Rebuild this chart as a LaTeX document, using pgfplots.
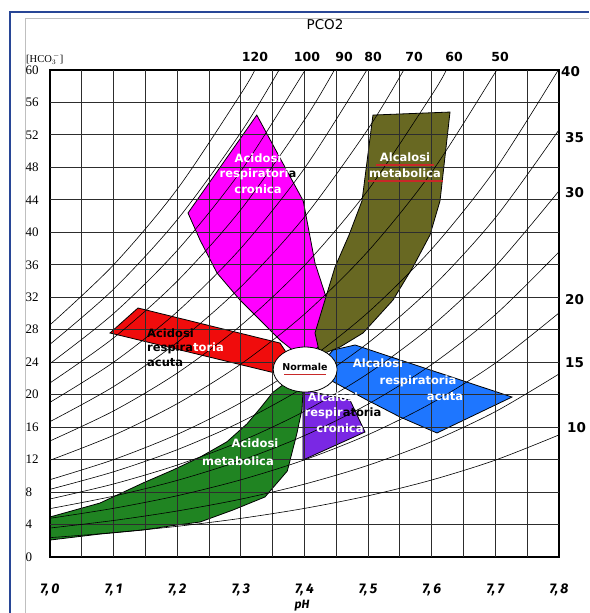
\documentclass[border=0pt]{standalone}
\usepackage{fontspec}
\setmainfont{Liberation Serif}
\newfontfamily\dejavu{DejaVu Sans}
\newfontfamily\fira{Fira Sans}
\usepackage{pgfplots}
\pgfplotsset{compat=1.18}
\definecolor{cMag}{RGB}{255,0,255}
\definecolor{cOlive}{RGB}{104,104,34}
\definecolor{cRed}{RGB}{240,12,12}
\definecolor{cBlue}{RGB}{30,118,255}
\definecolor{cViolet}{RGB}{122,40,228}
\definecolor{cGreen}{RGB}{32,132,34}
\definecolor{cFrame}{RGB}{40,70,150}
\definecolor{cUnder}{RGB}{200,40,40}
\definecolor{cGrid}{RGB}{45,45,45}
\tikzset{lab/.style={font=\dejavu\bfseries\fontsize{11.5}{12}\selectfont, text=white, inner sep=0pt},
         iso/.style={black, line width=0.6pt, smooth},
         zone/.style={draw=black, line width=0.8pt}}
\pgfplotsset{base/.style={
    at={(50pt,-557pt)}, anchor=south west,
    scale only axis, width=509pt, height=487pt,
    xmin=7, xmax=7.8, ymin=0, ymax=60}}
\begin{document}
\begin{tikzpicture}
% cornice
\draw[cFrame, line width=1.5pt] (10pt,-613pt) -- (10pt,-12pt) -- (589pt,-12pt);
\draw[black!25, line width=1pt] (25pt,-613pt) -- (25pt,-18pt) -- (589pt,-18pt);

% assi e zone
\begin{axis}[base,
    axis on top,
    xtick={7,7.1,7.2,7.3,7.4,7.5,7.6,7.7,7.8},
    xticklabels={{7,\,0},{7,\,1},{7,\,2},{7,\,3},{7,\,4},{7,\,5},{7,\,6},{7,\,7},{7,\,8}},
    minor xtick={7.05,7.15,7.25,7.35,7.45,7.55,7.65,7.75},
    ytick={0,4,...,60},
    grid=both,
    major grid style={draw=cGrid, line width=1.1pt},
    minor grid style={draw=cGrid, line width=1.1pt},
    tick style={draw=cGrid, line width=1.1pt},
    tick align=inside,
    axis line style={black, line width=1.3pt},
    xticklabel style={font=\fira\bfseries\itshape\fontsize{14}{14}\selectfont, yshift=-23pt},
    yticklabel style={font=\fontsize{13}{13}\selectfont, anchor=west, xshift=-28pt},
    /pgf/number format/assume math mode=true,
]
% acidosi respiratoria cronica
\addplot[zone, fill=cMag] coordinates {
    (7.325,54.45) (7.398,43.88) (7.4165,36.22) (7.4354,31.66) (7.4401,29.20)
    (7.4244,26.12) (7.4008,24.27) (7.3615,26.73) (7.3348,28.83) (7.2986,31.66)
    (7.2625,34.99) (7.2358,39.05) (7.2169,42.38)} -- cycle;
% alcalosi metabolica
\addplot[zone, fill=cOlive] coordinates {
    (7.5076,54.45) (7.6287,54.82) (7.6130,43.88) (7.5972,39.67) (7.5705,35.73)
    (7.5391,31.66) (7.4920,27.60) (7.4558,25.87) (7.4244,24.89) (7.4165,27.60)
    (7.4322,31.66) (7.4480,35.73) (7.4700,39.67) (7.4904,43.88)} -- cycle;
% acidosi respiratoria acuta
\addplot[zone, fill=cRed] coordinates {
    (7.0943,27.60) (7.1383,30.68) (7.3615,26.36) (7.3772,24.50) (7.3537,22.67)} -- cycle;
% alcalosi respiratoria acuta
\addplot[zone, fill=cBlue] coordinates {
    (7.4448,25.50) (7.4794,26.12) (7.7261,19.71) (7.6082,15.28) (7.5501,17.25)
    (7.4982,19.34) (7.4401,21.81) (7.4244,23.65)} -- cycle;
% alcalosi respiratoria cronica
\addplot[zone, fill=cViolet] coordinates {
    (7.3976,20.60) (7.4715,19.34) (7.4951,15.40) (7.3976,11.95)} -- cycle;
% acidosi metabolica
\addplot[zone, fill=cGreen] coordinates {
    (7.000,4.93) (7.0786,6.65) (7.1462,9.12) (7.1933,10.72) (7.2358,12.30)
    (7.2782,14.20) (7.3096,16.40) (7.3301,18.30) (7.3505,20.30) (7.3693,21.40)
    (7.3976,20.33) (7.3960,18.20) (7.3880,15.20) (7.3730,10.60) (7.3380,7.40)
    (7.2876,5.79) (7.2358,4.31) (7.1996,3.94) (7.1462,3.33) (7.0786,2.83)
    (7.000,2.09)} -- cycle;
\end{axis}

% griglia (passo 0,05 pH e 4 mmol/L)
\foreach \k in {1,...,15}{
  \draw[cGrid, line width=1.1pt] (50pt+\k*31.8125pt,-70pt) -- (50pt+\k*31.8125pt,-557pt);}
\foreach \k in {1,...,14}{
  \draw[cGrid, line width=1.1pt] (50pt,-557pt+\k*32.4667pt) -- (559pt,-557pt+\k*32.4667pt);}

% isoplete PCO2 (mmHg) e normale
\begin{axis}[base, hide axis]
\addplot[iso] coordinates {(7.0,2.38) (7.1,3.00) (7.2,3.78) (7.3,4.76) (7.4,5.99) (7.5,7.54) (7.6,9.49) (7.7,11.94) (7.8,15.04)};
\addplot[iso] coordinates {(7.0,3.57) (7.1,4.50) (7.2,5.67) (7.3,7.13) (7.4,8.98) (7.5,11.30) (7.6,14.23) (7.7,17.91) (7.8,22.55)};
\addplot[iso] coordinates {(7.0,4.77) (7.1,6.00) (7.2,7.55) (7.3,9.51) (7.4,11.97) (7.5,15.07) (7.6,18.97) (7.7,23.89) (7.8,30.07)};
\addplot[iso] coordinates {(7.0,5.96) (7.1,7.50) (7.2,9.44) (7.3,11.89) (7.4,14.96) (7.5,18.84) (7.6,23.72) (7.7,29.86) (7.8,37.59)};
\addplot[iso] coordinates {(7.0,7.15) (7.1,9.00) (7.2,11.33) (7.3,14.26) (7.4,17.96) (7.5,22.61) (7.6,28.46) (7.7,35.83) (7.8,45.11)};
\addplot[iso] coordinates {(7.0,8.34) (7.1,10.50) (7.2,13.22) (7.3,16.64) (7.4,20.95) (7.5,26.38) (7.6,33.20) (7.7,41.80) (7.8,52.63)};
\addplot[iso] coordinates {(7.0,9.53) (7.1,12.00) (7.2,15.11) (7.3,19.02) (7.4,23.94) (7.5,30.14) (7.6,37.95) (7.7,47.77) (7.8,60.14)};
\addplot[iso] coordinates {(7.0,11.92) (7.1,15.00) (7.2,18.89) (7.3,23.77) (7.4,29.93) (7.5,37.68) (7.6,47.43) (7.7,59.72) (7.702,60)};
\addplot[iso] coordinates {(7.0,14.30) (7.1,18.00) (7.2,22.66) (7.3,28.53) (7.4,35.92) (7.5,45.22) (7.6,56.92) (7.623,60)};
\addplot[iso] coordinates {(7.0,16.68) (7.1,21.00) (7.2,26.44) (7.3,33.29) (7.4,41.90) (7.5,52.75) (7.556,60)};
\addplot[iso] coordinates {(7.0,19.06) (7.1,24.00) (7.2,30.22) (7.3,38.04) (7.4,47.89) (7.498,60)};
\addplot[iso] coordinates {(7.0,21.45) (7.1,27.00) (7.2,33.99) (7.3,42.80) (7.4,53.87) (7.447,60)};
\addplot[iso] coordinates {(7.0,23.83) (7.1,30.00) (7.2,37.77) (7.3,47.55) (7.4,59.86) (7.401,60)};
\addplot[iso] coordinates {(7.0,26.21) (7.1,33.00) (7.2,41.55) (7.3,52.31) (7.360,60)};
\addplot[iso] coordinates {(7.0,28.60) (7.1,36.00) (7.2,45.32) (7.3,57.06) (7.322,60)};
% normale
\addplot[only marks, mark=*, mark size=22.5pt,
    mark options={fill=white, draw=black, line width=0.8pt, xscale=1.42}]
    coordinates {(7.401,23.1)};
\end{axis}

% etichette PCO2
\begin{scope}[every node/.style={font=\dejavu\bfseries\fontsize{12.5}{12}\selectfont, inner sep=0pt}]
\node at (255pt,-57pt) {120};
\node at (307pt,-57pt) {100};
\node at (344pt,-57pt) {90};
\node at (373pt,-57pt) {80};
\node at (414pt,-57pt) {70};
\node at (454pt,-57pt) {60};
\node at (500pt,-57pt) {50};
\end{scope}
\begin{scope}[every node/.style={font=\dejavu\bfseries\fontsize{13.5}{13}\selectfont, inner sep=0pt, anchor=west}]
\node at (561pt,-72pt) {40};
\node at (565pt,-138pt) {35};
\node at (565pt,-193pt) {30};
\node at (565pt,-300pt) {20};
\node at (565pt,-363pt) {15};
\node at (567pt,-428pt) {10};
\end{scope}
\node[font=\dejavu\fontsize{13.5}{13}\selectfont, inner sep=0pt] at (325pt,-25pt) {PCO2};
\node[font=\fontsize{10.5}{10}\selectfont, inner sep=0pt, anchor=west] at (26pt,-59pt) {[HCO$_3^{\,-}$]};
\node[font=\fira\bfseries\itshape\fontsize{12}{12}\selectfont, inner sep=0pt] at (302pt,-606pt) {pH};

% etichette zone
\node[lab] at (258pt,-158pt) {Acidosi};
\node[lab] at (258pt,-174pt) {respiratori\textcolor{black}{a}};
\node[lab] at (258pt,-189pt) {cronica};
\node[lab] at (405pt,-157pt) {Alcalosi};
\node[lab] at (405pt,-173pt) {metabolica};
\draw[cUnder, line width=1.2pt] (376pt,-165pt) -- (434pt,-165pt);
\draw[cUnder, line width=1.2pt] (368pt,-181pt) -- (443pt,-181pt);
\node[lab, anchor=west, text=black] at (147pt,-333pt) {Acidosi};
\node[lab, anchor=west, text=black] at (147pt,-348pt) {respira\textcolor{white}{toria}};
\node[lab, anchor=west, text=black] at (147pt,-363pt) {acuta};
\node[lab, text=black, font=\dejavu\bfseries\fontsize{9.5}{10}\selectfont] at (305pt,-367pt) {Normale};
\draw[cUnder, line width=1pt] (284pt,-374pt) -- (326pt,-374pt);
\node[lab] at (378pt,-363pt) {Alcalosi};
\node[lab] at (418pt,-381pt) {respiratoria};
\node[lab] at (445pt,-397pt) {acuta};
\node[lab] at (333pt,-397pt) {Alcalosi};
\node[lab] at (343pt,-413pt) {respir\textcolor{black}{atoria}};
\node[lab] at (340pt,-428pt) {cronica};
\node[lab] at (255pt,-443pt) {Acidosi};
\node[lab] at (238pt,-461pt) {metabolica};

\pgfresetboundingbox
\useasboundingbox (0pt,0pt) rectangle (589pt,-613pt);
\end{tikzpicture}
\end{document}
